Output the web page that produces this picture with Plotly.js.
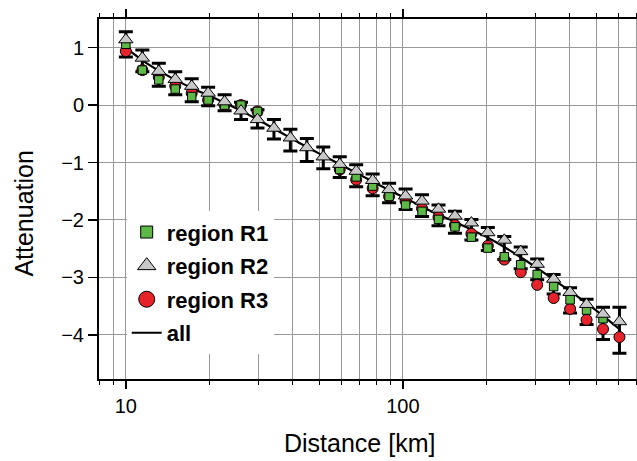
<!DOCTYPE html>
<html>
<head>
<meta charset="utf-8">
<script src="https://cdn.plot.ly/plotly-3.0.1.min.js"></script>
<style>
html,body{margin:0;padding:0;overflow:hidden;background:#fff;}
#chart{width:660px;height:461px;}
</style>
</head>
<body>
<div id="chart"></div>
<script>
// Distance bins [km]
const distance = [10.0, 11.47, 13.15, 15.08, 17.29, 19.82, 22.72, 26.05, 29.87, 34.25, 39.26, 45.02, 51.61, 59.18, 67.85, 77.80, 89.19, 102.3, 117.3, 134.5, 154.2, 176.8, 202.7, 232.4, 266.4, 305.5, 350.3, 401.6, 460.5, 528.0, 605.3];
// Attenuation per region
const regionR1 = [1.06, 0.61, 0.44, 0.28, 0.15, 0.09, 0.00, 0.00, -0.11, null, null, null, null, -1.12, -1.25, -1.41, -1.59, -1.74, -1.85, -1.99, -2.12, -2.30, -2.49, -2.64, -2.78, -2.95, -3.16, -3.39, -3.57, -3.72, null];
const regionR2 = [1.14, 0.82, 0.59, 0.45, 0.33, 0.21, 0.06, -0.10, -0.25, -0.40, -0.57, -0.74, -0.90, -1.03, -1.15, -1.31, -1.47, -1.58, -1.67, -1.81, -1.93, -2.05, -2.22, -2.35, -2.55, -2.77, -3.03, -3.26, -3.47, -3.64, -3.77];
const regionR3 = [0.94, 0.61, 0.49, 0.33, 0.21, 0.09, 0.00, 0.00, -0.11, null, null, null, null, -1.12, -1.30, -1.45, -1.59, -1.67, -1.80, -1.95, -2.09, -2.24, -2.45, -2.69, -2.91, -3.13, -3.36, -3.55, -3.74, -3.90, -4.04];
// Fit for all data
const allFit = [1.00, 0.78, 0.60, 0.44, 0.30, 0.17, 0.04, -0.10, -0.25, -0.41, -0.57, -0.73, -0.88, -1.03, -1.18, -1.33, -1.48, -1.62, -1.77, -1.91, -2.03, -2.17, -2.31, -2.47, -2.65, -2.84, -3.04, -3.24, -3.45, -3.67, -3.90];
// Error bars (centre and half-width)
const errCenter = [1.06, 0.77, 0.53, 0.38, 0.26, 0.15, 0.04, -0.10, -0.24, -0.42, -0.61, -0.78, -0.92, -1.08, -1.23, -1.39, -1.53, -1.64, -1.75, -1.92, -2.04, -2.17, -2.33, -2.49, -2.66, -2.86, -3.12, -3.40, -3.60, -3.80, -3.92];
const errHalf = [0.22, 0.19, 0.20, 0.20, 0.20, 0.16, 0.14, 0.15, 0.16, 0.17, 0.19, 0.20, 0.19, 0.18, 0.19, 0.19, 0.17, 0.18, 0.19, 0.18, 0.19, 0.18, 0.20, 0.20, 0.19, 0.18, 0.17, 0.22, 0.22, 0.28, 0.40];

const xMinorTicks = [8, 9, 20, 30, 40, 50, 60, 70, 80, 90, 200, 300, 400, 500, 600, 700, 800];
const xMajorTicks = [10, 100];
const xTickText = ['10', '100'];

const cGreen = '#5cb946', cGray = '#c8c8c8', cRed = '#e6222a';
const FONT = 'Liberation Sans, Arial, Helvetica, sans-serif';

const traces = [
  {x: distance, y: errCenter, mode: 'markers', marker: {size: 1, color: 'rgba(0,0,0,0)'},
   error_y: {type: 'data', array: errHalf, visible: true, color: '#000', thickness: 3, width: 7},
   showlegend: false, hoverinfo: 'skip'},
  {x: distance, y: allFit, mode: 'lines', line: {color: '#000', width: 2.2, shape: 'spline'}, showlegend: false},
  {x: distance, y: regionR3, mode: 'markers', marker: {symbol: 'circle', size: 11, color: cRed, line: {color: '#000', width: 1}}, showlegend: false},
  {x: distance, y: regionR1, mode: 'markers', marker: {symbol: 'square', size: 8.5, color: cGreen, line: {color: '#000', width: 1}}, showlegend: false},
  {x: distance, y: regionR2, mode: 'markers', marker: {symbol: 'triangle-up', size: 12.5, color: cGray, line: {color: '#000', width: 1}}, showlegend: false},
  // legend entries
  {x: [null], y: [null], name: 'region R1', legendgroup: 'a', mode: 'markers', marker: {symbol: 'square', size: 12, color: cGreen, line: {color: '#000', width: 1}}},
  {x: [null], y: [null], name: 'region R2', legendgroup: 'b', mode: 'markers', marker: {symbol: 'triangle-up', size: 16, color: cGray, line: {color: '#000', width: 1}}},
  {x: [null], y: [null], name: 'region R3', legendgroup: 'c', mode: 'markers', marker: {symbol: 'circle', size: 16, color: cRed, line: {color: '#000', width: 1}}},
  {x: [null], y: [null], name: 'all', legendgroup: 'd', mode: 'lines', line: {color: '#000', width: 2}}
];

const layout = {
  width: 660, height: 461,
  margin: {l: 99, r: 7, t: 19, b: 82},
  paper_bgcolor: '#fff', plot_bgcolor: '#fff',
  font: {family: FONT, color: '#000'},
  showlegend: true,
  legend: {x: 0.05, xanchor: 'left', y: 0.466, yanchor: 'top', bgcolor: '#fff', borderwidth: 0,
           font: {family: FONT, size: 22, color: '#000', weight: 'bold'}, tracegroupgap: 2, traceorder: 'grouped'},
  xaxis: {
    type: 'log', range: [Math.log10(8), Math.log10(800)],
    tickmode: 'array', tickvals: xMajorTicks, ticktext: xTickText,
    ticks: 'outside', ticklen: 8, tickwidth: 1.5, tickcolor: '#000',
    showline: true, linewidth: 2, linecolor: '#000', mirror: 'ticks',
    showgrid: true, gridcolor: '#999', gridwidth: 1, zeroline: false,
    tickfont: {family: FONT, size: 20, color: '#000'},
    minor: {tickmode: 'array', tickvals: xMinorTicks, ticks: 'outside', ticklen: 4, tickwidth: 1, tickcolor: '#000',
            showgrid: true, gridcolor: '#999', gridwidth: 1}
  },
  yaxis: {
    range: [-4.77, 1.5], tick0: 0, dtick: 1,
    ticks: 'outside', ticklen: 9, tickwidth: 1.5, tickcolor: '#000',
    showline: true, linewidth: 2, linecolor: '#000', mirror: 'ticks',
    showgrid: true, gridcolor: '#999', gridwidth: 1, zeroline: false,
    tickfont: {family: FONT, size: 20, color: '#000'}
  },
  annotations: [
    {text: 'Distance [km]', xref: 'paper', yref: 'paper', x: 0.47, y: -0.178, xanchor: 'center', yanchor: 'middle',
     showarrow: false, font: {family: FONT, size: 25, color: '#000'}},
    {text: 'Attenuation', xref: 'paper', yref: 'paper', x: -0.135, y: 0.46, xanchor: 'center', yanchor: 'middle',
     textangle: -90, showarrow: false, font: {family: FONT, size: 25, color: '#000'}}
  ]
};

Plotly.newPlot('chart', traces, layout, {displayModeBar: false, staticPlot: true});
</script>
</body>
</html>
